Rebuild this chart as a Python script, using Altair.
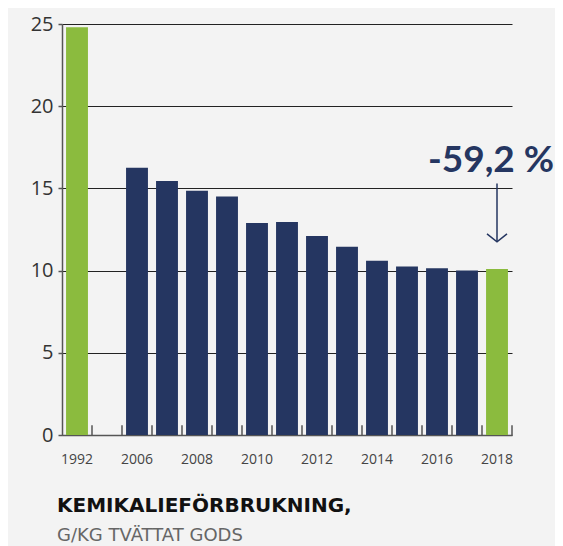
import altair as alt
import pandas as pd

categories = ["1992", "gap", "2006", "2007", "2008", "2009", "2010", "2011",
              "2012", "2013", "2014", "2015", "2016", "2017", "2018"]
years = ["1992", "2006", "2007", "2008", "2009", "2010", "2011",
         "2012", "2013", "2014", "2015", "2016", "2017", "2018"]
values = [24.8, 16.25, 15.45, 14.85, 14.5, 12.9, 12.95,
          12.1, 11.45, 10.6, 10.25, 10.15, 10.0, 10.1]
highlight = ["1992", "2018"]
shown_labels = ["1992", "2006", "2008", "2010", "2012", "2014", "2016", "2018"]
y_ticks = [0, 5, 10, 15, 20, 25]

annotation = "-59,2 %"
arrow_top = 15.3
arrow_bottom = 11.75
label_y = 16.0

NAVY = "#253661"
GREEN = "#8bbb3e"
FONT = "Lato"
TFONT = "Open Sans"
HFONT = "DejaVu Sans"

bars_df = pd.DataFrame({
    "year": years,
    "value": values,
    "group": ["hl" if y in highlight else "base" for y in years],
})
ticks_df = pd.DataFrame({"year": categories})
ann_df = pd.DataFrame({"year": ["2018"], "top": [arrow_top], "bottom": [arrow_bottom],
                       "ly": [label_y], "label": [annotation]})

label_expr = "indexof(" + str(shown_labels).replace("'", '"') + ", datum.value) >= 0 ? datum.value : ''"

x_enc = alt.X("year:N",
              scale=alt.Scale(domain=categories, paddingInner=0.27),
              axis=alt.Axis(title=None, labelExpr=label_expr, ticks=False,
                            labelAngle=0, labelFont=TFONT, labelFontSize=14,
                            labelColor="#444", labelPadding=17,
                            domainColor="#555", domainWidth=1.5, grid=False))
y_scale = alt.Scale(domain=[0, 25], nice=False)

bars = alt.Chart(bars_df).mark_bar().encode(
    x=x_enc,
    y=alt.Y("value:Q", scale=y_scale,
            axis=alt.Axis(title=None, values=y_ticks, labelFont=TFONT,
                          labelFontSize=20, labelColor="#333", labelPadding=5,
                          tickSize=4, tickColor="#555", tickWidth=1.5,
                          domainColor="#555", domainWidth=1.5,
                          grid=True, gridColor="#222", gridWidth=1,
                          minExtent=54, maxExtent=54)),
    color=alt.Color("group:N", scale=alt.Scale(domain=["base", "hl"], range=[NAVY, GREEN]),
                    legend=None),
)

ticks = alt.Chart(ticks_df).mark_rule(color="#555", strokeWidth=1.5, xOffset=15).encode(
    x=alt.X("year:N"),
    y=alt.datum(0),
    y2=alt.datum(0.6),
)

arrow_line = alt.Chart(ann_df).mark_rule(color=NAVY, strokeWidth=1.5).encode(
    x="year:N", y="top:Q", y2="bottom:Q")
arrow_head = alt.Chart(ann_df).mark_point(
    shape="M-1,-0.8L0,0L1,-0.8", size=400, filled=False, color=NAVY,
    strokeWidth=1.5, opacity=1).encode(x="year:N", y="bottom:Q")
ann_text = alt.Chart(ann_df).mark_text(
    font=FONT, fontSize=37, fontWeight="bold", color=NAVY, align="center",
    baseline="alphabetic", dx=-6).encode(x="year:N", y="ly:Q", text="label:N")

chart = alt.layer(bars, ticks, arrow_line, arrow_head, ann_text).properties(
    width=450, height=411,
    padding={"left": 0, "top": 6, "right": 0, "bottom": 4},
    background="#f3f3f3",
    title=alt.TitleParams(
        text="KEMIKALIEFÖRBRUKNING,", subtitle="G/KG TVÄTTAT GODS",
        orient="bottom", anchor="start", frame="group", dx=-5, offset=30,
        font=HFONT, fontSize=20, fontWeight="bold", color="#111",
        subtitleFont=HFONT, subtitleFontSize=18, subtitleColor="#666",
        subtitlePadding=11),
).configure_view(stroke=None)

chart.save("out.html", embed_options={"renderer": "svg", "actions": False})
